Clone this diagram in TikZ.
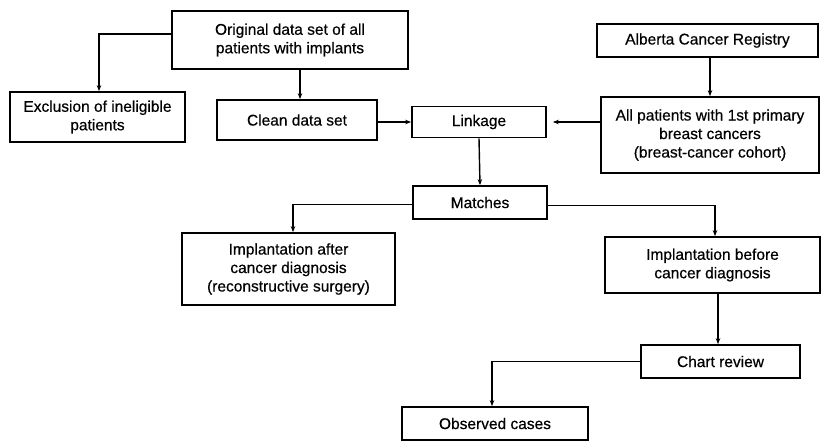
\documentclass[tikz,border=0pt]{standalone}
\usepackage{fontspec}
\setmainfont{Liberation Sans}
\newfontfamily\boxfont{Liberation Sans}[FakeBold=0.5]
\usetikzlibrary{arrows.meta}
\begin{document}
\begin{tikzpicture}[x=1pt,y=-1pt,
  box/.style={draw, line width=1.7pt, align=center, inner sep=0pt,
    font=\boxfont\fontsize{15.5}{18.5}\selectfont},
  arr/.style={line width=1.4pt, -{Stealth[length=6pt,width=4.5pt]}}]
\useasboundingbox (0,0) rectangle (821,441);
\node[box, minimum width=236, minimum height=58] (orig) at (290,40) {Original data set of all\\patients with implants};
\node[box, minimum width=175, minimum height=50] (excl) at (97.5,117) {Exclusion of ineligible\\patients};
\node[box, minimum width=160, minimum height=40] (clean) at (297,120) {Clean data set};
\node[box, minimum width=134, minimum height=31] (link) at (479,122) {Linkage};
\node[box, minimum width=221, minimum height=33] (acr) at (707.5,40.5) {Alberta Cancer Registry};
\node[box, minimum width=218, minimum height=76] (allp) at (710,135) {All patients with 1st primary\\breast cancers\\(breast-cancer cohort)};
\node[box, minimum width=134, minimum height=33] (match) at (480,202.5) {Matches};
\node[box, minimum width=213, minimum height=72] (after) at (288.5,269) {Implantation after\\cancer diagnosis\\(reconstructive surgery)};
\node[box, minimum width=215, minimum height=56] (before) at (712.5,265) {Implantation before\\cancer diagnosis};
\node[box, minimum width=159, minimum height=33] (chart) at (720.5,361.5) {Chart review};
\node[box, minimum width=186, minimum height=33] (obs) at (495,423.5) {Observed cases};

\draw[arr] ([yshift=6pt]orig.west) -| ([xshift=1.5pt]excl.north);
\draw[arr] ([xshift=3pt]clean.north |- orig.south) -- ([xshift=3pt]clean.north);
\draw[arr] (clean.east |- link.west) -- (link.west);
\draw[arr] (allp.west |- link.east) -- ([xshift=6pt]link.east);
\draw[arr] (acr.south -| allp.north) -- (allp.north);
\draw[arr] (link.south) -- (match.north);
\draw[arr] ([yshift=-2pt]match.west) -| ([xshift=4.5pt]after.north);
\draw[arr] ([yshift=-3pt]match.east) -| ([xshift=2.5pt]before.north);
\draw[arr] ([xshift=5.5pt]before.south) -- ([xshift=5.5pt]before.south |- chart.north);
\draw[arr] (chart.west) -| ([xshift=-3pt]obs.north);
\end{tikzpicture}
\end{document}
